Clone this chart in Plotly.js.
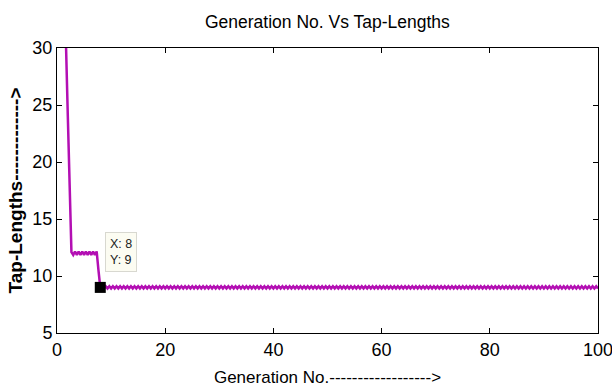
<!DOCTYPE html>
<html>
<head>
<meta charset="utf-8">
<script src="https://cdn.plot.ly/plotly-3.0.1.min.js"></script>
<style>html,body{margin:0;padding:0;background:#fff;}#chart{width:612px;height:389px;}</style>
</head>
<body>
<div id="chart"></div>
<script>
// Generation axis: three samples per generation, from generation 1 to 100
const genStart = 1;
const samplesPerGen = 3;

// Tap-length values (one per sample)
const tapLengths = [
  34, 32, 30.2, 24, 18, 12.1,
  11.85, 12.15, 11.85, 12.15, 11.85, 12.15, 11.85, 12.15, 11.85, 12.15, 11.85, 12.15, 11.85, 12.15,
  10.5, 9,
  9.1, 8.9, 9.1, 8.9, 9.1, 8.9, 9.1, 8.9, 9.1, 8.9, 9.1, 8.9, 9.1, 8.9, 9.1, 8.9, 9.1, 8.9, 9.1, 8.9, 9.1, 8.9, 9.1, 8.9,
  9.1, 8.9, 9.1, 8.9, 9.1, 8.9, 9.1, 8.9, 9.1, 8.9, 9.1, 8.9, 9.1, 8.9, 9.1, 8.9, 9.1, 8.9, 9.1, 8.9, 9.1, 8.9, 9.1, 8.9,
  9.1, 8.9, 9.1, 8.9, 9.1, 8.9, 9.1, 8.9, 9.1, 8.9, 9.1, 8.9, 9.1, 8.9, 9.1, 8.9, 9.1, 8.9, 9.1, 8.9, 9.1, 8.9, 9.1, 8.9,
  9.1, 8.9, 9.1, 8.9, 9.1, 8.9, 9.1, 8.9, 9.1, 8.9, 9.1, 8.9, 9.1, 8.9, 9.1, 8.9, 9.1, 8.9, 9.1, 8.9, 9.1, 8.9, 9.1, 8.9,
  9.1, 8.9, 9.1, 8.9, 9.1, 8.9, 9.1, 8.9, 9.1, 8.9, 9.1, 8.9, 9.1, 8.9, 9.1, 8.9, 9.1, 8.9, 9.1, 8.9, 9.1, 8.9, 9.1, 8.9,
  9.1, 8.9, 9.1, 8.9, 9.1, 8.9, 9.1, 8.9, 9.1, 8.9, 9.1, 8.9, 9.1, 8.9, 9.1, 8.9, 9.1, 8.9, 9.1, 8.9, 9.1, 8.9, 9.1, 8.9,
  9.1, 8.9, 9.1, 8.9, 9.1, 8.9, 9.1, 8.9, 9.1, 8.9, 9.1, 8.9, 9.1, 8.9, 9.1, 8.9, 9.1, 8.9, 9.1, 8.9, 9.1, 8.9, 9.1, 8.9,
  9.1, 8.9, 9.1, 8.9, 9.1, 8.9, 9.1, 8.9, 9.1, 8.9, 9.1, 8.9, 9.1, 8.9, 9.1, 8.9, 9.1, 8.9, 9.1, 8.9, 9.1, 8.9, 9.1, 8.9,
  9.1, 8.9, 9.1, 8.9, 9.1, 8.9, 9.1, 8.9, 9.1, 8.9, 9.1, 8.9, 9.1, 8.9, 9.1, 8.9, 9.1, 8.9, 9.1, 8.9, 9.1, 8.9, 9.1, 8.9,
  9.1, 8.9, 9.1, 8.9, 9.1, 8.9, 9.1, 8.9, 9.1, 8.9, 9.1, 8.9, 9.1, 8.9, 9.1, 8.9, 9.1, 8.9, 9.1, 8.9, 9.1, 8.9, 9.1, 8.9,
  9.1, 8.9, 9.1, 8.9, 9.1, 8.9, 9.1, 8.9, 9.1, 8.9, 9.1, 8.9, 9.1, 8.9, 9.1, 8.9, 9.1, 8.9, 9.1, 8.9, 9.1, 8.9, 9.1, 8.9,
  9.1, 8.9, 9.1, 8.9, 9.1, 8.9, 9.1, 8.9, 9.1, 8.9, 9.1, 8.9, 9.1, 8.9, 9.1, 8.9, 9.1, 8.9, 9.1, 8.9, 9.1, 8.9, 9.1, 8.9,
  9.1, 8.9, 9.1, 8.9, 9.1, 8.9, 9.1, 8.9, 9.1, 8.9, 9.1, 8.9, 9.1, 8.9, 9.1, 8.9, 9.1, 8.9, 9.1, 8.9, 9.1, 8.9, 9.1, 8.9,
  9.1, 8.9, 9.1, 8.9, 9.1, 8.9, 9.1, 8.9, 9.1, 8.9, 9.1, 8.9
];

// Data tip
const tipX = [8];
const tipY = [9];

const xTicks = [0, 20, 40, 60, 80, 100];
const yTicks = [5, 10, 15, 20, 25, 30];

const genX = tapLengths.map((_, i) => genStart + i / samplesPerGen).filter(v => v <= 100.0001);
const tapY = tapLengths.slice(0, genX.length);

const font = "'Liberation Sans', Arial, sans-serif";

const traces = [
  {
    x: genX, y: tapY, type: 'scatter', mode: 'lines',
    line: {color: '#b30fb3', width: 2.5},
    hoverinfo: 'skip'
  },
  {
    x: tipX, y: tipY, type: 'scatter', mode: 'markers',
    marker: {symbol: 'square', size: 11, color: '#000'},
    hoverinfo: 'skip'
  }
];

const layout = {
  width: 612, height: 389,
  paper_bgcolor: '#fff', plot_bgcolor: '#fff',
  showlegend: false,
  margin: {l: 57, r: 14, t: 48, b: 56},
  font: {family: font, color: '#000'},
  title: {
    text: 'Generation No. Vs Tap-Lengths',
    font: {family: font, size: 17.5, color: '#000'},
    x: 0.535, xanchor: 'center', y: 1 - 22 / 389, yanchor: 'middle', yref: 'container'
  },
  xaxis: {
    range: [0, 100], tickvals: xTicks, ticktext: xTicks.map(String),
    showgrid: false, zeroline: false,
    showline: true, linecolor: '#000', linewidth: 1, mirror: 'ticks',
    ticks: 'inside', ticklen: 5, tickcolor: '#000',
    ticklabeloverflow: 'allow',
    tickfont: {family: font, size: 18, color: '#000'},
    title: {text: 'Generation No.------------------>', font: {family: font, size: 17, color: '#000'}, standoff: 12}
  },
  yaxis: {
    range: [5, 30], tickvals: yTicks, ticktext: yTicks.map(String),
    showgrid: false, zeroline: false,
    showline: true, linecolor: '#000', linewidth: 1, mirror: 'ticks',
    ticks: 'inside', ticklen: 5, tickcolor: '#000',
    ticklabeloverflow: 'allow',
    tickfont: {family: font, size: 18, color: '#000'},
    title: {text: '<b>Tap-Lengths-------------></b>', font: {family: font, size: 19, color: '#000'}, standoff: 4}
  },
  annotations: [
    {
      x: tipX[0], y: tipY[0], xref: 'x', yref: 'y',
      text: 'X: 8<br>Y: 9', showarrow: false,
      xanchor: 'left', yanchor: 'bottom', xshift: 5, yshift: 15,
      align: 'left',
      font: {family: font, size: 12.5, color: '#222'},
      bgcolor: '#fcfcf2', bordercolor: '#d8d8d0', borderwidth: 1, borderpad: 4
    }
  ]
};

Plotly.newPlot('chart', traces, layout, {displayModeBar: false, staticPlot: true});
</script>
</body>
</html>
